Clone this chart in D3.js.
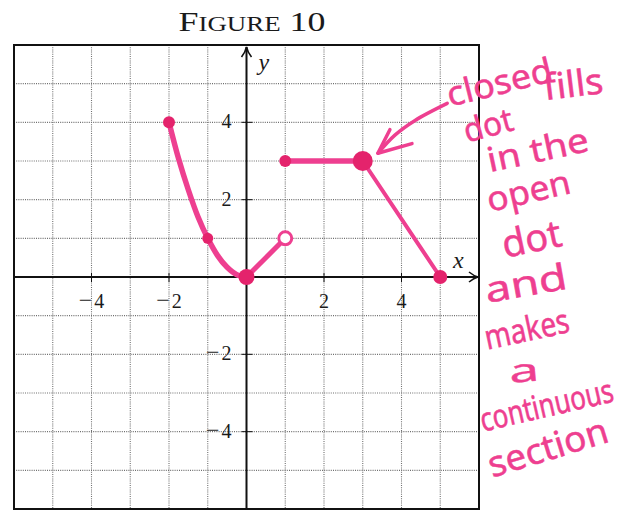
<!DOCTYPE html>
<html>
<head>
<meta charset="utf-8">
<script src="https://cdn.jsdelivr.net/npm/d3@7/dist/d3.min.js"></script>
<style>
  html, body { margin: 0; padding: 0; background: #fff; }
  svg { display: block; }
</style>
</head>
<body>
<svg id="chart" width="638" height="510"></svg>
<script>
// Axis ranges and tick labels
const xDomain = [-6, 6];
const yDomain = [-6, 6];
const gridValues = [-5, -4, -3, -2, -1, 1, 2, 3, 4, 5];
const xTickValues = [-4, -2, 2, 4];
const yTickValues = [4, 2, -2, -4];

// Piece 1: curved piece from (-2,4) down to the origin
const curveX = [-2, -1.75, -1.5, -1.25, -1, -0.75, -0.5, -0.25, 0];
const curveY = [4, 3.05, 2.25, 1.55, 1, 0.56, 0.25, 0.06, 0];
// Piece 2: segment from the origin up to the open dot
const riseX = [0, 1];
const riseY = [0, 1];
// Piece 3: flat segment then the falling segment
const flatX = [1, 3];
const flatY = [3, 3];
const fallX = [3, 5];
const fallY = [3, 0];

// Endpoint dots: x, y, filled or open
const dotX = [-2, -1, 0, 1, 1, 3, 5];
const dotY = [4, 1, 0, 1, 3, 3, 0];
const dotFilled = [true, true, true, false, true, true, true];
const dotSize = [6, 5.5, 8, 6.5, 6, 10, 7];

// Handwritten note, one word group per line
const noteWords = ["closed", "dot", "fills", "in the", "open", "dot", "and", "makes", "a", "continuous", "section"];

const svg = d3.select("#chart");

const plot = { left: 14, right: 479, top: 45, bottom: 509 };
const x = d3.scaleLinear().domain(xDomain).range([plot.left, plot.right]);
const y = d3.scaleLinear().domain(yDomain).range([plot.bottom, plot.top]);

const serif = "'Liberation Serif', 'DejaVu Serif', serif";
const ink = "#ee3f90";
const dotInk = "#e4236c";

// Title in small capitals
const title = svg.append("text")
  .attr("x", 252).attr("y", 31)
  .attr("text-anchor", "middle")
  .attr("font-family", serif)
  .attr("fill", "#1a1a1a")
  .attr("textLength", 147)
  .attr("lengthAdjust", "spacingAndGlyphs");
title.append("tspan").attr("font-size", 28).text("F");
title.append("tspan").attr("font-size", 21).text("IGURE");
title.append("tspan").attr("font-size", 28).text(" 10");

// Dotted grid
const grid = svg.append("g")
  .attr("stroke", "#6e6e6e")
  .attr("stroke-width", 1.1)
  .attr("stroke-dasharray", "1,1.2");
grid.selectAll("line.v").data(gridValues).join("line")
  .attr("class", "v")
  .attr("x1", d => x(d)).attr("x2", d => x(d))
  .attr("y1", plot.top).attr("y2", plot.bottom);
grid.selectAll("line.h").data(gridValues).join("line")
  .attr("class", "h")
  .attr("y1", d => y(d)).attr("y2", d => y(d))
  .attr("x1", plot.left).attr("x2", plot.right);

// Frame
svg.append("rect")
  .attr("x", plot.left).attr("y", plot.top)
  .attr("width", plot.right - plot.left)
  .attr("height", plot.bottom - plot.top)
  .attr("fill", "none")
  .attr("stroke", "#111")
  .attr("stroke-width", 2);

// Coordinate axes with arrow heads
const axes = svg.append("g").attr("stroke", "#111").attr("fill", "none");
axes.append("line")
  .attr("x1", plot.left).attr("x2", plot.right - 1)
  .attr("y1", y(0)).attr("y2", y(0))
  .attr("stroke-width", 2);
axes.append("line")
  .attr("x1", x(0)).attr("x2", x(0))
  .attr("y1", plot.bottom).attr("y2", plot.top + 2)
  .attr("stroke-width", 2);
axes.append("path")
  .attr("d", `M${plot.right - 10},${y(0) - 5} Q${plot.right - 5},${y(0) - 1} ${plot.right - 1},${y(0)} Q${plot.right - 5},${y(0) + 1} ${plot.right - 10},${y(0) + 5}`)
  .attr("stroke-width", 1.6);
axes.append("path")
  .attr("d", `M${x(0) - 5},${plot.top + 12} Q${x(0) - 1},${plot.top + 7} ${x(0)},${plot.top + 2} Q${x(0) + 1},${plot.top + 7} ${x(0) + 5},${plot.top + 12}`)
  .attr("stroke-width", 1.6);

// Tick marks on the axes
axes.selectAll("line.xt").data(xTickValues).join("line")
  .attr("class", "xt")
  .attr("x1", d => x(d)).attr("x2", d => x(d))
  .attr("y1", y(0) - 4).attr("y2", y(0) + 5)
  .attr("stroke-width", 1);
axes.selectAll("line.yt").data(yTickValues).join("line")
  .attr("class", "yt")
  .attr("y1", d => y(d)).attr("y2", d => y(d))
  .attr("x1", x(0) - 5).attr("x2", x(0) + 6)
  .attr("stroke-width", 1);

// Tick labels: a wide minus sign followed by the digit
function tickLabel(sel) {
  sel.each(function (d) {
    const t = d3.select(this);
    if (d < 0) t.append("tspan").attr("font-size", 24).text("\u2212");
    t.append("tspan").attr("font-size", 20).attr("dx", d < 0 ? 2 : 0).text(Math.abs(d));
  });
}
svg.append("g")
  .selectAll("text").data(xTickValues).join("text")
  .attr("x", d => x(d))
  .attr("y", y(0) + 31)
  .attr("text-anchor", "middle")
  .attr("font-family", serif)
  .attr("fill", "#1a1a1a")
  .call(tickLabel);
svg.append("g")
  .selectAll("text").data(yTickValues).join("text")
  .attr("x", x(0) - 15)
  .attr("y", d => y(d) + 6)
  .attr("text-anchor", "end")
  .attr("font-family", serif)
  .attr("fill", "#1a1a1a")
  .call(tickLabel);

// Axis names
svg.append("text")
  .attr("x", x(0) + 12).attr("y", plot.top + 25)
  .attr("font-family", serif).attr("font-style", "italic")
  .attr("font-size", 24).attr("fill", "#1a1a1a")
  .text("y");
svg.append("text")
  .attr("x", plot.right - 26).attr("y", y(0) - 9)
  .attr("font-family", serif).attr("font-style", "italic")
  .attr("font-size", 24).attr("fill", "#1a1a1a")
  .text("x");

// Graph pieces
const line = d3.line().x(d => x(d[0])).y(d => y(d[1]));
const zip = (xs, ys) => xs.map((v, i) => [v, ys[i]]);
const marks = svg.append("g")
  .attr("fill", "none")
  .attr("stroke", ink)
  .attr("stroke-linecap", "round")
  .attr("stroke-linejoin", "round");

marks.append("path")
  .attr("d", line.curve(d3.curveCatmullRom)(zip(curveX, curveY)))
  .attr("stroke-width", 5.5);
line.curve(d3.curveLinear);
marks.append("path")
  .attr("d", line(zip(riseX, riseY)))
  .attr("stroke-width", 5);
marks.append("path")
  .attr("d", line(zip(flatX, flatY)))
  .attr("stroke-width", 5.5);
marks.append("path")
  .attr("d", line(zip(fallX, fallY)))
  .attr("stroke-width", 4);

// Endpoint dots
svg.append("g")
  .selectAll("circle").data(dotX.map((v, i) => i)).join("circle")
  .attr("cx", i => x(dotX[i]))
  .attr("cy", i => y(dotY[i]))
  .attr("r", i => dotSize[i])
  .attr("fill", i => dotFilled[i] ? dotInk : "#fff")
  .attr("stroke", i => dotFilled[i] ? "none" : ink)
  .attr("stroke-width", 3);

// Arrow from the note to the filled dot at (3,3)
const arrowPts = [[5.18, 4.49], [4.35, 4.05], [3.83, 3.67], [3.39, 3.20]];
const arrowBarbs = [[3.70, 3.81], [4.27, 3.45]];
const note = svg.append("g")
  .attr("fill", "none")
  .attr("stroke", ink)
  .attr("stroke-width", 3.5)
  .attr("stroke-linecap", "round")
  .attr("stroke-linejoin", "round");
note.append("path")
  .attr("d", d3.line().x(d => x(d[0])).y(d => y(d[1])).curve(d3.curveCatmullRom)(arrowPts));
note.append("path")
  .attr("d", d3.line().x(d => x(d[0])).y(d => y(d[1]))([arrowBarbs[0], arrowPts[3], arrowBarbs[1]]));

// Handwritten note placement: left baseline anchor (plot units), width, tilt, size
const notePlace = [
  { ax: 5.25, ay: 4.40, w: 108, rot: -14, fs: 34 },
  { ax: 5.69, ay: 3.47, w: 50, rot: -15, fs: 33 },
  { ax: 7.70, ay: 4.57, w: 60, rot: -7, fs: 36 },
  { ax: 6.28, ay: 2.71, w: 103, rot: -12, fs: 34 },
  { ax: 6.28, ay: 1.68, w: 85, rot: -13, fs: 34 },
  { ax: 6.67, ay: 0.49, w: 60, rot: -12, fs: 38 },
  { ax: 6.21, ay: -0.67, w: 83, rot: -10, fs: 36 },
  { ax: 6.21, ay: -1.88, w: 86, rot: -12, fs: 34 },
  { ax: 6.80, ay: -2.74, w: 30, rot: -5, fs: 32 },
  { ax: 6.10, ay: -4.00, w: 136, rot: -13, fs: 33 },
  { ax: 6.34, ay: -5.19, w: 124, rot: -17, fs: 36 }
];
// Each word is squeezed horizontally to its written width
svg.append("g")
  .selectAll("text").data(noteWords).join("text")
  .attr("font-family", "'Noto Sans', sans-serif")
  .attr("font-size", (d, i) => notePlace[i].fs)
  .attr("fill", ink)
  .attr("stroke", ink)
  .attr("stroke-width", 0.5)
  .text(d => d)
  .each(function (d, i) {
    const p = notePlace[i];
    const natural = this.getComputedTextLength() || p.w;
    const sx = p.w / natural;
    d3.select(this)
      .attr("stroke-width", 0.5 / Math.sqrt(sx))
      .attr("transform", `translate(${x(p.ax)},${y(p.ay)}) rotate(${p.rot}) scale(${sx},1)`);
  });
</script>
</body>
</html>
